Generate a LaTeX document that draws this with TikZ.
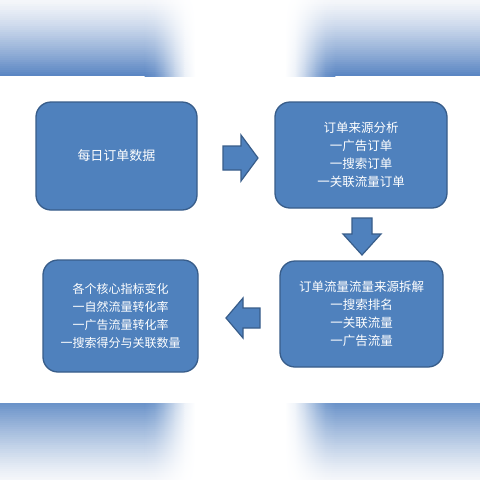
\documentclass[tikz,border=0pt]{standalone}
\usepackage{fontspec}
\newfontfamily\cjk{Noto Sans CJK SC}
\definecolor{boxfill}{HTML}{4F81BD}
\definecolor{boxline}{HTML}{385D8A}
\definecolor{bandblue}{HTML}{5884C2}
\definecolor{bandblueb}{HTML}{6891C8}
\definecolor{bandlight}{HTML}{F4F6FA}
\newcommand{\bandstrip}[2]{%
  \fill[bc] (0,#1) rectangle (145.5,#2);
  \fill[bc] (334.5,#1) rectangle (480,#2);
  \fill[white] (194.5,#1) rectangle (285.5,#2);
  \foreach \ta/\tb in {0/0.2,0.2/0.4,0.4/0.6,0.6/0.8,0.8/1} {
    \pgfmathtruncatemacro\wa{100*(3*\ta*\ta-2*\ta*\ta*\ta)}
    \pgfmathtruncatemacro\wb{100*(3*\tb*\tb-2*\tb*\tb*\tb)}
    \colorlet{ca}{white!\wa!bc}
    \colorlet{cb}{white!\wb!bc}
    \shade[left color=ca, right color=cb] (145+50*\ta-0.3,#1) rectangle (145+50*\tb+0.3,#2);
    \shade[left color=cb, right color=ca] (335-50*\tb-0.3,#1) rectangle (335-50*\ta+0.3,#2);
  }}
\begin{document}
\begin{tikzpicture}[x=1pt,y=-1pt,
  box/.style={draw=boxline, line width=1.3pt, fill=boxfill, rounded corners=15pt,
    text=white, font=\cjk\fontsize{12.5}{18}\selectfont, align=center, inner sep=0pt},
  blk/.style={draw=boxline, line width=1.2pt, fill=boxfill, line join=miter}]
\useasboundingbox (0,0) rectangle (480,480);
\fill[white] (0,0) rectangle (480,480);
% top band: light (top) to blue (bottom), white glow in the middle
\foreach \i in {0,...,37} {
  \pgfmathtruncatemacro\p{100*((\i+0.5)/38)^1.25}
  \pgfmathsetmacro\ya{2*\i}
  \pgfmathsetmacro\yb{min(2*\i+2.4,76)}
  \colorlet{bc}{bandblue!\p!bandlight}
  \bandstrip{\ya}{\yb}
}
% bottom band: blue (top) to light (bottom)
\foreach \i in {0,...,38} {
  \pgfmathtruncatemacro\p{100*(1-(\i+0.5)/39)^1.25}
  \pgfmathsetmacro\ya{403+2*\i}
  \pgfmathsetmacro\yb{min(403+2*\i+2.4,480)}
  \colorlet{bc}{bandblueb!\p!bandlight}
  \bandstrip{\ya}{\yb}
}
% boxes
\node[box, minimum width=161pt, minimum height=108pt, font=\cjk\fontsize{13}{18}\selectfont] (daily) at (116.5,156) {每日订单数据};
\node[box, minimum width=172pt, minimum height=106pt] (source) at (361,155) {订单来源分析\\一广告订单\\一搜索订单\\一关联流量订单};
\node[box, minimum width=163pt, minimum height=106pt] (traffic) at (361.5,314) {订单流量流量来源拆解\\一搜索排名\\一关联流量\\一广告流量};
\node[box, minimum width=155pt, minimum height=112pt, font=\cjk\fontsize{12}{18}\selectfont] (core) at (120.5,316) {各个核心指标变化\\一自然流量转化率\\一广告流量转化率\\一搜索得分与关联数量};
% block arrows
\draw[blk] (223,146) -- (241,146) -- (241,135) -- (258,158) -- (241,181) -- (241,170) -- (223,170) -- cycle;
\draw[blk] (352,218) -- (372,218) -- (372,234) -- (381,234) -- (362,255) -- (343,234) -- (352,234) -- cycle;
\draw[blk] (260,308) -- (243,308) -- (243,298) -- (226,318) -- (243,338) -- (243,328) -- (260,328) -- cycle;
\end{tikzpicture}
\end{document}
